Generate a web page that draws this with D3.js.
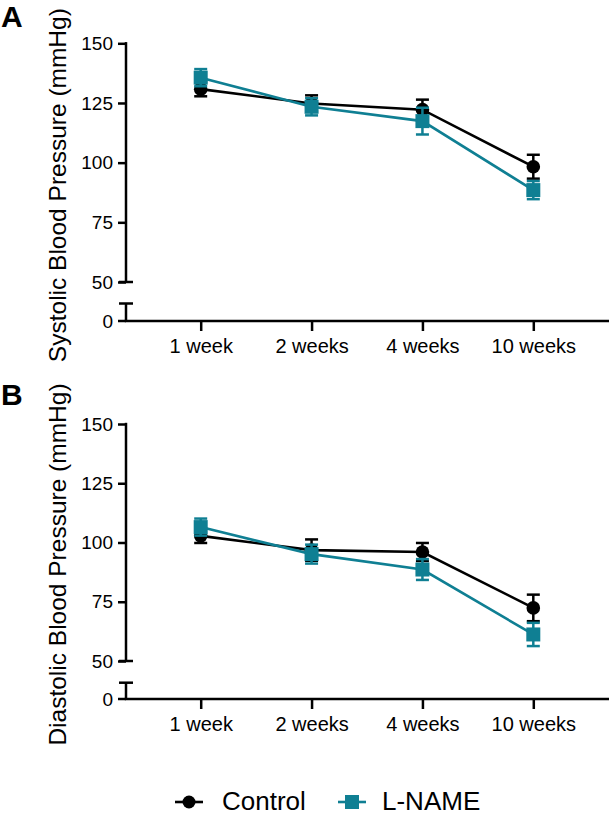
<!DOCTYPE html>
<html>
<head>
<meta charset="utf-8">
<script src="https://cdn.jsdelivr.net/npm/d3@7"></script>
<style>
  body { margin: 0; background: #fff; }
  svg { display: block; font-family: "Liberation Sans", Arial, Helvetica, sans-serif; }
</style>
</head>
<body>
<svg id="chart" width="609" height="817"></svg>
<script>
// ---- data ----
const weeks = ["1 week", "2 weeks", "4 weeks", "10 weeks"];
const yTicks = [50, 75, 100, 125, 150];
const seriesNames = ["Control", "L-NAME"];

const sysControl = [130.8, 124.8, 122.2, 98.3];
const sysControlErr = [3.0, 3.4, 4.2, 5.0];
const sysLname = [135.6, 123.4, 117.4, 88.5];
const sysLnameErr = [3.6, 3.6, 5.6, 3.8];

const diaControl = [102.8, 96.8, 96.0, 72.4];
const diaControlErr = [3.0, 4.5, 3.8, 5.6];
const diaLname = [106.5, 95.1, 88.6, 61.2];
const diaLnameErr = [3.6, 4.0, 4.4, 4.9];

// ---- styles ----
const BLACK = "#000000";
const TEAL = "#0f7f93";
const svg = d3.select("#chart");

const x = d3.scalePoint().domain(weeks).range([200.7, 533.3]);
const axisX = 126;

function panel(opts) {
  const g = svg.append("g");
  const y = d3.scaleLinear().domain([50, 150]).range([opts.y50, opts.y150]);
  const y0 = opts.y0;
  const yBreak = opts.yBreak;

  // panel letter
  svg.append("text").attr("x", 1).attr("y", opts.letterY)
    .attr("font-size", 30).attr("font-weight", "bold").text(opts.letter);

  // y axis upper segment
  const yAxis = d3.axisLeft(y).tickValues(yTicks).tickSize(8).tickPadding(5);
  const ya = g.append("g").attr("transform", `translate(${axisX},0)`).call(yAxis);
  ya.select(".domain").remove();
  ya.selectAll(".tick line").attr("stroke", BLACK).attr("stroke-width", 2.5);
  ya.selectAll(".tick text").attr("font-size", 19).attr("fill", BLACK)
    .attr("font-family", "Liberation Sans, Arial, sans-serif");
  g.append("line").attr("x1", axisX).attr("x2", axisX)
    .attr("y1", y(150) - 1.2).attr("y2", y(50))
    .attr("stroke", BLACK).attr("stroke-width", 2.5);
  // break cap at 50
  g.append("line").attr("x1", axisX - 7).attr("x2", axisX + 7)
    .attr("y1", y(50)).attr("y2", y(50)).attr("stroke", BLACK).attr("stroke-width", 2.5);

  // lower segment (0)
  g.append("line").attr("x1", axisX).attr("x2", axisX)
    .attr("y1", yBreak).attr("y2", y0)
    .attr("stroke", BLACK).attr("stroke-width", 2.5);
  g.append("line").attr("x1", axisX - 7).attr("x2", axisX + 7)
    .attr("y1", yBreak).attr("y2", yBreak).attr("stroke", BLACK).attr("stroke-width", 2.5);
  g.append("line").attr("x1", axisX - 8).attr("x2", axisX)
    .attr("y1", y0).attr("y2", y0).attr("stroke", BLACK).attr("stroke-width", 2.5);
  g.append("text").attr("x", axisX - 13).attr("y", y0).attr("dy", "0.35em")
    .attr("text-anchor", "end").attr("font-size", 19).text("0");

  // x axis
  const xAxis = d3.axisBottom(x).tickSize(10).tickPadding(8);
  const xa = g.append("g").attr("transform", `translate(0,${y0})`).call(xAxis);
  xa.select(".domain").remove();
  xa.selectAll(".tick line").attr("stroke", BLACK).attr("stroke-width", 2.5);
  xa.selectAll(".tick text").attr("font-size", 20).attr("fill", BLACK)
    .attr("font-family", "Liberation Sans, Arial, sans-serif");
  g.append("line").attr("x1", axisX - 1.2).attr("x2", 609)
    .attr("y1", y0).attr("y2", y0).attr("stroke", BLACK).attr("stroke-width", 2.5);

  // y title
  g.append("text")
    .attr("transform", `translate(66,${(y(150) + y0) / 2 + 3}) rotate(-90)`)
    .attr("text-anchor", "middle").attr("font-size", 24.5).text(opts.title);

  // series
  const series = [
    { vals: opts.control, err: opts.controlErr, color: BLACK, shape: "circle" },
    { vals: opts.lname, err: opts.lnameErr, color: TEAL, shape: "square" }
  ];
  const line = d3.line().x((d, i) => x(weeks[i])).y(d => y(d));
  series.forEach(s => {
    const sg = g.append("g");
    sg.append("path").datum(s.vals).attr("d", line)
      .attr("fill", "none").attr("stroke", s.color).attr("stroke-width", 2.6);
    s.vals.forEach((v, i) => {
      const cx = x(weeks[i]);
      const top = y(v + s.err[i]), bot = y(v - s.err[i]);
      sg.append("line").attr("x1", cx).attr("x2", cx).attr("y1", top).attr("y2", bot)
        .attr("stroke", s.color).attr("stroke-width", 2.5);
      [top, bot].forEach(yy => sg.append("line")
        .attr("x1", cx - 6.5).attr("x2", cx + 6.5).attr("y1", yy).attr("y2", yy)
        .attr("stroke", s.color).attr("stroke-width", 2.5));
      if (s.shape === "circle") {
        sg.append("circle").attr("cx", cx).attr("cy", y(v)).attr("r", 6.8).attr("fill", s.color);
      } else {
        sg.append("rect").attr("x", cx - 7).attr("y", y(v) - 7)
          .attr("width", 14).attr("height", 14).attr("fill", s.color);
      }
    });
  });
}

panel({
  letter: "A", letterY: 27,
  y150: 43.3, y50: 282, y0: 321, yBreak: 303.5,
  title: "Systolic Blood Pressure (mmHg)",
  control: sysControl, controlErr: sysControlErr,
  lname: sysLname, lnameErr: sysLnameErr
});
panel({
  letter: "B", letterY: 405,
  y150: 424, y50: 661, y0: 699, yBreak: 682.7,
  title: "Diastolic Blood Pressure (mmHg)",
  control: diaControl, controlErr: diaControlErr,
  lname: diaLname, lnameErr: diaLnameErr
});

// legend
const legendY = 802;
const legendItems = [
  { name: seriesNames[0], color: BLACK, shape: "circle", x0: 175, tx: 222 },
  { name: seriesNames[1], color: TEAL, shape: "square", x0: 338, tx: 382 }
];
const lg = svg.append("g");
legendItems.forEach(it => {
  lg.append("line").attr("x1", it.x0).attr("x2", it.x0 + 28)
    .attr("y1", legendY).attr("y2", legendY).attr("stroke", it.color).attr("stroke-width", 2.6);
  if (it.shape === "circle") {
    lg.append("circle").attr("cx", it.x0 + 14).attr("cy", legendY).attr("r", 6.5).attr("fill", it.color);
  } else {
    lg.append("rect").attr("x", it.x0 + 7).attr("y", legendY - 7).attr("width", 14).attr("height", 14).attr("fill", it.color);
  }
  lg.append("text").attr("x", it.tx).attr("y", 810).attr("font-size", 26).text(it.name);
});
</script>
</body>
</html>
